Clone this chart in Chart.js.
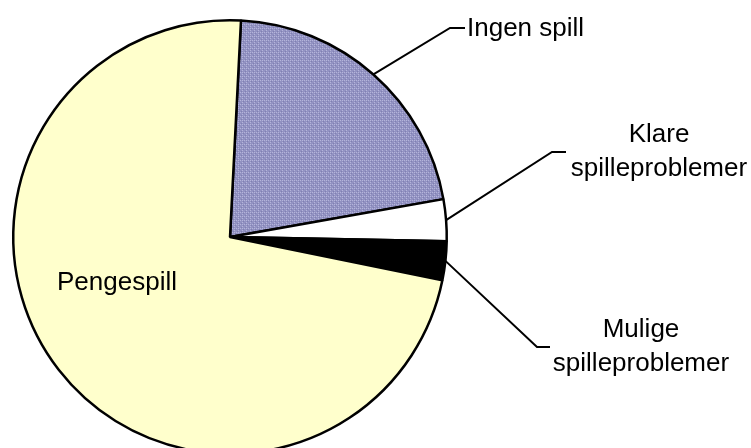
<!DOCTYPE html>
<html>
<head>
<meta charset="utf-8">
<script src="https://cdn.jsdelivr.net/npm/chart.js@4"></script>
<style>
  html, body { margin: 0; padding: 0; background: #fff; overflow: hidden; }
</style>
</head>
<body>
<canvas id="pie-chart" width="751" height="474"></canvas>
<script>
// andel i prosent, lest av bildet
const categories = ['Ingen spill', 'Klare spilleproblemer', 'Mulige spilleproblemer', 'Pengespill'];
const shares = [21.4, 3.1, 2.9, 72.6];
const labelLines = [['Ingen spill'], ['Klare', 'spilleproblemer'], ['Mulige', 'spilleproblemer'], ['Pengespill']];

// lavendel med fin prikketekstur
const makePattern = () => {
    const c = document.createElement('canvas');
    c.width = 4; c.height = 4;
    const g = c.getContext('2d');
    g.fillStyle = '#9292c2';
    g.fillRect(0, 0, 4, 4);
    g.fillStyle = '#b4b4da';
    g.fillRect(0, 0, 1, 1);
    g.fillRect(2, 2, 1, 1);
    g.fillRect(2, 0, 1, 1);
    g.fillStyle = '#8080b2';
    g.fillRect(1, 3, 1, 1);
    g.fillRect(3, 1, 1, 1);
    return g.createPattern(c, 'repeat');
};

// leader line elbows and text anchors per slice (inside = no leader line)
const labelLayout = [
    { elbow: [450, 28], end: [465, 28], x: 467, y: 29, align: 'left' },
    { elbow: [552, 152], end: [566, 152], x: 659, y: 135, align: 'center' },
    { elbow: [537, 347], end: [550, 347], x: 641, y: 330, align: 'center' },
    { inside: true, x: 117, y: 283, align: 'center' }
];

const labelPlugin = {
    id: 'sliceLabels',
    afterDraw(chart) {
        const ctx = chart.ctx;
        const meta = chart.getDatasetMeta(0);
        ctx.save();
        ctx.font = '26px "Liberation Sans", Arial, sans-serif';
        ctx.fillStyle = '#000';
        ctx.strokeStyle = '#000';
        ctx.lineWidth = 2;
        ctx.textBaseline = 'middle';
        meta.data.forEach((arc, i) => {
            const lay = labelLayout[i];
            if (!lay.inside) {
                const mid = (arc.startAngle + arc.endAngle) / 2;
                const sx = arc.x + Math.cos(mid) * arc.outerRadius;
                const sy = arc.y + Math.sin(mid) * arc.outerRadius;
                ctx.beginPath();
                ctx.moveTo(sx, sy);
                ctx.lineTo(lay.elbow[0], lay.elbow[1]);
                ctx.lineTo(lay.end[0], lay.end[1]);
                ctx.stroke();
            }
            ctx.textAlign = lay.align;
            labelLines[i].forEach((line, k) => {
                ctx.fillText(line, lay.x, lay.y + k * 34);
            });
        });
        ctx.restore();
    }
};

const ctx = document.getElementById('pie-chart').getContext('2d');
new Chart(ctx, {
    type: 'pie',
    data: {
        labels: categories,
        datasets: [{
            data: shares,
            backgroundColor: [makePattern(), '#ffffff', '#000000', '#ffffcc'],
            borderColor: '#000000',
            borderWidth: 2.5,
            hoverBorderWidth: 2.5
        }]
    },
    options: {
        responsive: false,
        animation: false,
        rotation: 2.9,
        layout: { padding: { left: 12, top: 19, right: 303, bottom: 19 } },
        plugins: {
            legend: { display: false },
            tooltip: { enabled: false }
        }
    },
    plugins: [labelPlugin]
});
</script>
</body>
</html>
